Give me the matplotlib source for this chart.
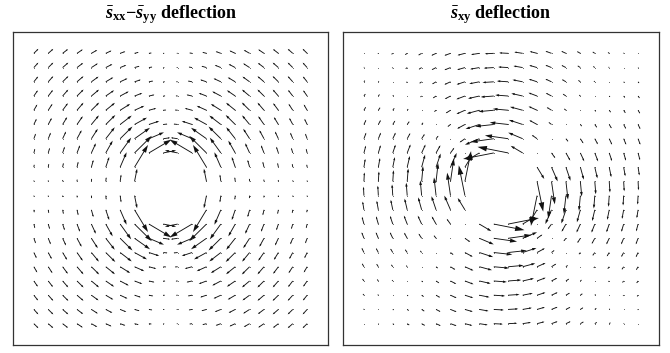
import numpy as np
import matplotlib
matplotlib.use("Agg")
import matplotlib.pyplot as plt
from matplotlib.collections import LineCollection, PolyCollection

plt.rcParams["mathtext.fontset"] = "custom"
plt.rcParams["mathtext.rm"] = "Liberation Serif:bold"
plt.rcParams["mathtext.it"] = "Liberation Serif:italic:bold"
plt.rcParams["mathtext.bf"] = "Liberation Serif:bold"

# grid of arrow tails (grid units), 20 x 20, centred on the lens
grid_pos = [-9.5, -8.5, -7.5, -6.5, -5.5, -4.5, -3.5, -2.5, -1.5, -0.5,
            0.5, 1.5, 2.5, 3.5, 4.5, 5.5, 6.5, 7.5, 8.5, 9.5]
hole_radius = 2.5

# arrow lengths (grid units) in the upper-right quadrant, counter-clockwise positive
# row i -> y = i + 0.5, column j -> x = j + 0.5 ; None = no arrow (central hole)
sxx_syy_len = [
    [None, None, 0.91, 0.48, 0.29, 0.20, 0.14, 0.11, 0.08, 0.07],
    [None, None, 1.82, 1.14, 0.76, 0.53, 0.39, 0.30, 0.24, 0.19],
    [0.91, 1.82, 1.70, 1.32, 0.99, 0.75, 0.58, 0.46, 0.37, 0.30],
    [0.48, 1.14, 1.32, 1.21, 1.02, 0.83, 0.68, 0.56, 0.46, 0.38],
    [0.29, 0.76, 0.99, 1.02, 0.94, 0.83, 0.71, 0.61, 0.52, 0.44],
    [0.20, 0.53, 0.75, 0.83, 0.83, 0.77, 0.70, 0.62, 0.54, 0.47],
    [0.14, 0.39, 0.58, 0.68, 0.71, 0.70, 0.65, 0.60, 0.54, 0.49],
    [0.11, 0.30, 0.46, 0.56, 0.61, 0.62, 0.60, 0.57, 0.53, 0.48],
    [0.08, 0.24, 0.37, 0.46, 0.52, 0.54, 0.54, 0.53, 0.50, 0.47],
    [0.07, 0.19, 0.30, 0.38, 0.44, 0.47, 0.49, 0.48, 0.47, 0.45],
]
sxy_len = [
    [None, None, -2.17, -1.63, -1.29, -1.07, -0.91, -0.79, -0.70, -0.63],
    [None, None, -0.97, -1.09, -1.01, -0.91, -0.81, -0.72, -0.65, -0.59],
    [2.17, 0.97, 0.00, -0.45, -0.62, -0.65, -0.64, -0.61, -0.57, -0.53],
    [1.63, 1.09, 0.45, 0.00, -0.26, -0.39, -0.45, -0.47, -0.46, -0.45],
    [1.29, 1.01, 0.62, 0.26, 0.00, -0.17, -0.27, -0.32, -0.35, -0.36],
    [1.07, 0.91, 0.65, 0.39, 0.17, 0.00, -0.12, -0.19, -0.24, -0.27],
    [0.91, 0.81, 0.64, 0.45, 0.27, 0.12, 0.00, -0.09, -0.15, -0.19],
    [0.79, 0.72, 0.61, 0.47, 0.32, 0.19, 0.09, 0.00, -0.07, -0.12],
    [0.70, 0.65, 0.57, 0.46, 0.35, 0.24, 0.15, 0.07, 0.00, -0.05],
    [0.63, 0.59, 0.53, 0.45, 0.36, 0.27, 0.19, 0.12, 0.05, 0.00],
]
titles = [r"$\bar{s}_{\mathbf{xx}}$$-$$\bar{s}_{\mathbf{yy}}$ deflection",
          r"$\bar{s}_{\mathbf{xy}}$ deflection"]


def build_field(table, odd_in_quadrants):
    X, Y, U, V = [], [], [], []
    for y in grid_pos:
        for x in grid_pos:
            r = np.hypot(x, y)
            val = table[int(abs(y) - 0.5)][int(abs(x) - 0.5)]
            if r < hole_radius or val is None:
                continue
            s = val * (np.sign(x) * np.sign(y) if odd_in_quadrants else 1.0)
            X.append(x)
            Y.append(y)
            U.append(-s * y / r)
            V.append(s * x / r)
    return np.array(X), np.array(Y), np.array(U), np.array(V)


def draw_arrows(ax, X, Y, U, V, alpha=0.3, beta=0.3):
    shafts, heads = [], []
    for x, y, u, v in zip(X, Y, U, V):
        tx, ty = x + u, y + v
        shafts.append([(x, y), (tx - 0.5 * alpha * u, ty - 0.5 * alpha * v)])
        heads.append([(tx - alpha * (u + beta * v), ty - alpha * (v - beta * u)),
                      (tx, ty),
                      (tx - alpha * (u - beta * v), ty - alpha * (v + beta * u))])
    ax.add_collection(LineCollection(shafts, colors="#111111", linewidths=0.65,
                                     capstyle="butt"))
    ax.add_collection(PolyCollection(heads, facecolors="#111111",
                                     edgecolors="none"))
    ax.scatter(X, Y, s=0.5, color="#666666", linewidths=0)


fig = plt.figure(figsize=(6.7, 3.53), dpi=100)
axes = [fig.add_axes([13 / 670, 8 / 353, 315 / 670, 313 / 353]),
        fig.add_axes([343 / 670, 8 / 353, 316 / 670, 313 / 353])]

fields = [build_field(sxx_syy_len, True), build_field(sxy_len, False)]

for ax, field, title in zip(axes, fields, titles):
    draw_arrows(ax, *field)
    ax.set_xlim(-10.95, 10.95)
    ax.set_ylim(-11.0, 11.0)
    ax.set_xticks([])
    ax.set_yticks([])
    for sp in ax.spines.values():
        sp.set_linewidth(0.9)
        sp.set_color("#333333")
    ax.set_title(title, fontsize=13, fontweight="bold",
                 family="Liberation Serif", pad=10)

fig.savefig("out.png", dpi=100)
